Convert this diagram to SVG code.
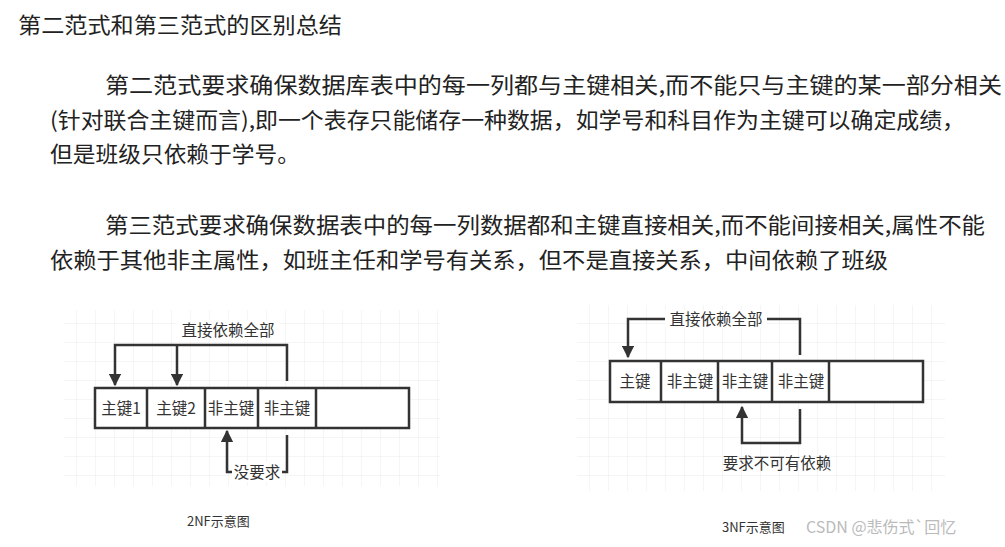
<svg xmlns="http://www.w3.org/2000/svg" width="1005" height="547" viewBox="0 0 1005 547">
<style>
.t{font-family:"Noto Sans CJK SC","Liberation Sans",sans-serif;fill:#222;font-size:21.5px}
.s{font-family:"Noto Sans CJK SC","Liberation Sans",sans-serif;fill:#333;font-size:15.5px}
.c{font-family:"Noto Sans CJK SC","Liberation Sans",sans-serif;fill:#333;font-size:13px}
.box{fill:#fff;stroke:#333;stroke-width:2.5}
.ln{fill:none;stroke:#333;stroke-width:2.5}
.g{stroke:#ececec;stroke-width:1}
</style>
<defs>
<marker id="ar" viewBox="0 0 10 10" refX="9" refY="5" markerWidth="5" markerHeight="5" orient="auto" markerUnits="strokeWidth"><path d="M0,0L10,5L0,10z" fill="#333"/></marker>
<pattern id="grid" width="19" height="19" patternUnits="userSpaceOnUse"><path d="M0,0H19M0,0V19" class="g" fill="none"/></pattern>
</defs>
<rect width="1005" height="547" fill="#fff"/>
<text class="t" x="18" y="33" textLength="324" lengthAdjust="spacingAndGlyphs">第二范式和第三范式的区别总结</text>
<text class="t" x="105" y="93" textLength="897" lengthAdjust="spacingAndGlyphs">第二范式要求确保数据库表中的每一列都与主键相关,而不能只与主键的某一部分相关</text>
<text class="t" x="50" y="128" textLength="915" lengthAdjust="spacingAndGlyphs">(针对联合主键而言),即一个表存只能储存一种数据，如学号和科目作为主键可以确定成绩，</text>
<text class="t" x="50" y="162" textLength="250" lengthAdjust="spacingAndGlyphs">但是班级只依赖于学号。</text>
<text class="t" x="105" y="233" textLength="880" lengthAdjust="spacingAndGlyphs">第三范式要求确保数据表中的每一列数据都和主键直接相关,而不能间接相关,属性不能</text>
<text class="t" x="50" y="268" textLength="838" lengthAdjust="spacingAndGlyphs">依赖于其他非主属性，如班主任和学号有关系，但不是直接关系，中间依赖了班级</text>
<rect x="64" y="310" width="376" height="176" fill="url(#grid)"/>
<rect x="577" y="305" width="368" height="186" fill="url(#grid)"/>
<g id="nf2">
<rect class="box" x="95" y="388" width="314" height="40"/>
<path class="ln" d="M147,388V428M205,388V428M258,388V428M316,388V428"/>
<text class="s" x="121" y="414" text-anchor="middle">主键1</text>
<text class="s" x="176" y="414" text-anchor="middle">主键2</text>
<text class="s" x="231" y="414" text-anchor="middle">非主键</text>
<text class="s" x="287" y="414" text-anchor="middle">非主键</text>
</g>
<g id="nf3">
<rect class="box" x="610" y="361" width="313" height="41"/>
<path class="ln" d="M661,361V402M718,361V402M772,361V402M829,361V402"/>
<text class="s" x="635" y="387" text-anchor="middle">主键</text>
<text class="s" x="690" y="387" text-anchor="middle">非主键</text>
<text class="s" x="745" y="387" text-anchor="middle">非主键</text>
<text class="s" x="801" y="387" text-anchor="middle">非主键</text>
</g>
<g id="connectors">
<path class="ln" d="M287,381V345H115V385" marker-end="url(#ar)"/>
<path class="ln" d="M177,345V385" marker-end="url(#ar)"/>
<path class="ln" d="M287,435V472H227V431" marker-end="url(#ar)"/>
<path class="ln" d="M800,355V319H628V357" marker-end="url(#ar)"/>
<path class="ln" d="M800,409V443H742V407" marker-end="url(#ar)"/>
</g>
<rect x="176" y="320" width="104" height="20" fill="#fff"/>
<text class="s" x="228" y="336" text-anchor="middle">直接依赖全部</text>
<rect x="232" y="462" width="50" height="20" fill="#fff"/>
<text class="s" x="257" y="478" text-anchor="middle">没要求</text>
<rect x="665" y="310" width="102" height="18" fill="#fff"/>
<text class="s" x="716" y="325" text-anchor="middle">直接依赖全部</text>
<text class="s" x="777" y="469" text-anchor="middle">要求不可有依赖</text>
<text class="c" x="187" y="526">2NF示意图</text>
<text class="c" x="722" y="532">3NF示意图</text>
<text class="c" x="806" y="533" style="fill:#bbb;font-size:16px">CSDN @悲伤式`回忆</text>
</svg>
